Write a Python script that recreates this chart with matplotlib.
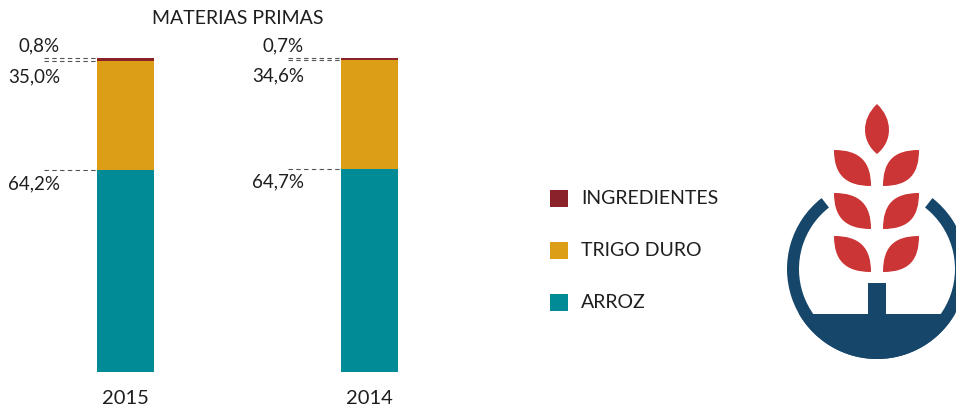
import numpy as np
import matplotlib.pyplot as plt
from matplotlib.patches import Rectangle, Wedge, Polygon, PathPatch
from matplotlib.path import Path

plt.rcParams['font.family'] = ['Lato', 'DejaVu Sans']

years = ['2015', '2014']
series = ['INGREDIENTES', 'TRIGO DURO', 'ARROZ']
arroz = [64.2, 64.7]
trigo = [35.0, 34.6]
ingredientes = [0.8, 0.7]
arroz_lbl = ['64,2%', '64,7%']
trigo_lbl = ['35,0%', '34,6%']
ingr_lbl = ['0,8%', '0,7%']

c_ingr = '#8a2329'
c_trigo = '#db9e16'
c_arroz = '#008b96'
txt = '#1e1e1e'

W, H = 956, 410
fig = plt.figure(figsize=(W / 100, H / 100), dpi=100)

# bars
ax = fig.add_axes([3.5 / W, 37 / H, 488 / W, 314 / H])
ax.set_xlim(-0.5, 1.5)
ax.set_ylim(0, 100)
ax.axis('off')
bw = 57 / 244
x = np.arange(len(years))
ax.bar(x, arroz, bw, color=c_arroz)
ax.bar(x, trigo, bw, bottom=arroz, color=c_trigo)
ax.bar(x, ingredientes, bw, bottom=np.add(arroz, trigo), color=c_ingr)

lead = 53 / 244
for i in x:
    left = i - bw / 2
    top = arroz[i] + trigo[i] + ingredientes[i]
    b1 = arroz[i] + trigo[i]
    b2 = arroz[i]
    for yy in (top, b1, b2):
        ax.plot([left - lead, left], [yy, yy], color='#555555', lw=0.8,
                ls=(0, (4, 3)), clip_on=False)
    ax.annotate(ingr_lbl[i], (left, top), xytext=(-37, 13), textcoords='offset pixels',
                ha='right', va='center', fontsize=13.5, color=txt)
    ax.annotate(trigo_lbl[i], (left, b1), xytext=(-37, -15), textcoords='offset pixels',
                ha='right', va='center', fontsize=13.5, color=txt)
    ax.annotate(arroz_lbl[i], (left, b2), xytext=(-37, -12), textcoords='offset pixels',
                ha='right', va='center', fontsize=13.5, color=txt)
    ax.annotate(years[i], (i, 0), xytext=(0, -26), textcoords='offset pixels',
                ha='center', va='center', fontsize=14.5, color=txt)

fig.text(238 / W, 1 - 19 / H, 'MATERIAS PRIMAS', ha='center', va='center',
         fontsize=14, color=txt)

# overlay in pixel coords (y up) for legend and logo
ov = fig.add_axes([0, 0, 1, 1])
ov.set_xlim(0, W)
ov.set_ylim(0, H)
ov.axis('off')

colors = [c_ingr, c_trigo, c_arroz]
for k, (name, col) in enumerate(zip(series, colors)):
    yc = H - (199 + 52 * k)
    ov.add_patch(Rectangle((550, yc - 8.5), 18, 17, color=col, lw=0))
    ov.text(581, yc, name, ha='left', va='center', fontsize=14, color=txt)

# logo
navy = '#16476b'
red = '#cc3535'
cx, cy, r = 877, 140, 90
ov.add_patch(Wedge((cx, cy), r, 128, 412, width=12, color=navy, lw=0))
ang = np.radians(np.linspace(210, 330, 60))
seg = np.column_stack([cx + r * np.cos(ang), cy + r * np.sin(ang)])
ov.add_patch(Polygon(seg, closed=True, color=navy, lw=0))
ov.add_patch(Rectangle((868, 94), 18, 32, color=navy, lw=0))


def leaf(p0, c1, c2, p3, c4, c5):
    verts = [p0, c1, c2, p3, c4, c5, p0, p0]
    codes = [Path.MOVETO, Path.CURVE4, Path.CURVE4, Path.CURVE4,
             Path.CURVE4, Path.CURVE4, Path.CURVE4, Path.CLOSEPOLY]
    ov.add_patch(PathPatch(Path(verts, codes), color=red, lw=0))


# top leaf
leaf((877, 255), (893, 268), (893, 290), (877, 305), (861, 290), (861, 268))
for top_px in (151, 194, 237):
    t = H - top_px
    b = t - 36
    # left leaf
    leaf((834, t), (860, t), (871, t - 12), (871, b), (845, b), (834, b + 12))
    # right leaf
    leaf((919, t), (893, t), (883, t - 12), (883, b), (909, b), (919, b + 12))

fig.savefig('out.png', dpi=100)
